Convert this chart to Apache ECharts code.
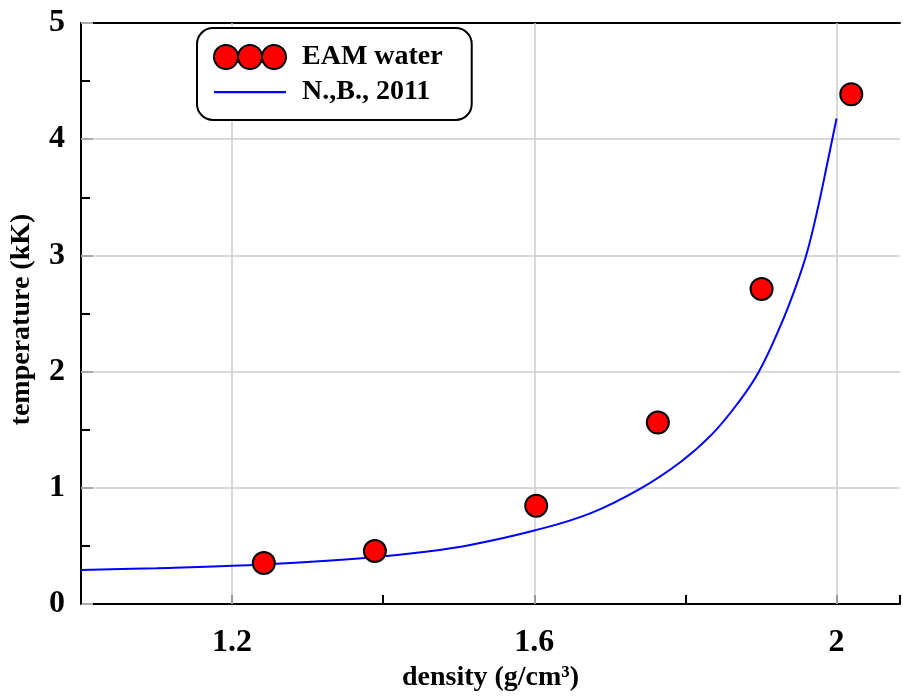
<!DOCTYPE html>
<html>
<head>
<meta charset="utf-8">
<title>EAM water</title>
<script src="https://cdn.jsdelivr.net/npm/echarts@6/dist/echarts.min.js"></script>
<style>
  html, body { margin: 0; padding: 0; background: #ffffff; overflow: hidden; }
  #chart { width: 903px; height: 697px; }
</style>
</head>
<body>
<div id="chart"></div>
<script>
// EAM water simulation points: density (g/cm3) vs temperature (kK)
const eamDensity = [1.242, 1.389, 1.6025, 1.7635, 1.9008, 2.0195];
const eamTemp    = [0.354, 0.457, 0.847, 1.562, 2.712, 4.386];

// N.,B., 2011 reference curve
const nbDensity = [1.00, 1.10, 1.20, 1.30, 1.383, 1.45, 1.515, 1.60, 1.674,
                   1.741, 1.794, 1.835, 1.870, 1.897, 1.926, 1.946, 1.961, 1.975, 1.988, 2.000];
const nbTemp    = [0.294, 0.309, 0.329, 0.363, 0.400, 0.446, 0.509, 0.633, 0.781,
                   0.996, 1.225, 1.460, 1.734, 1.997, 2.398, 2.730, 3.027, 3.399, 3.800, 4.178];

// axis ticks
const xLabelTicks = [1.2, 1.6, 2.0];
const yTicks = [0, 1, 2, 3, 4, 5];

const serif = '"Liberation Serif", "DejaVu Serif", serif';
const gridGray = '#cccccc';

const eamData = eamDensity.map((d, i) => [d, eamTemp[i]]);
const nbData = nbDensity.map((d, i) => [d, nbTemp[i]]);

// legend icons: a row of three markers, and a plain thin line
const threeCircles = 'path://M0,12a12,12 0 1,0 24,0a12,12 0 1,0 -24,0Z' +
  'M24,12a12,12 0 1,0 24,0a12,12 0 1,0 -24,0Z' +
  'M48,12a12,12 0 1,0 24,0a12,12 0 1,0 -24,0Z';
const thinLine = 'path://M0,0H64V2H0Z';

const chart = echarts.init(document.getElementById('chart'), null, { renderer: 'canvas' });

chart.setOption({
  backgroundColor: '#ffffff',
  animation: false,
  // plot runs off the right edge of the page
  grid: { left: 80.5, width: 826, top: 23, bottom: 91, containLabel: false },
  legend: {
    orient: 'vertical',
    left: 197,
    top: 28,
    padding: [15, 29, 14, 16],
    itemGap: 7,
    itemWidth: 72,
    itemHeight: 24,
    symbolKeepAspect: true,
    backgroundColor: '#ffffff',
    borderColor: '#000000',
    borderWidth: 2,
    borderRadius: 16,
    textStyle: { fontFamily: serif, fontWeight: 'bold', fontSize: 28, color: '#000', padding: [0, 0, 0, 11] },
    data: [
      { name: 'EAM water', icon: threeCircles },
      { name: 'N.,B., 2011', icon: thinLine, itemStyle: { color: '#0000ff', borderWidth: 0 } }
    ]
  },
  xAxis: [
    {
      type: 'value',
      min: 1.0,
      max: 2.084,
      interval: 0.2,
      position: 'bottom',
      axisLine: { show: true, onZero: false, lineStyle: { color: '#000', width: 2 } },
      axisTick: { show: true, inside: true, length: 9, lineStyle: { color: '#000', width: 2 } },
      splitLine: { show: false },
      axisLabel: {
        margin: 23,
        fontFamily: serif, fontWeight: 'bold', fontSize: 32, color: '#000',
        formatter: v => {
          const hit = xLabelTicks.find(t => Math.abs(t - v) < 1e-6);
          return hit === undefined ? '' : String(+hit.toFixed(1));
        }
      },
      name: 'density (g/cm³)',
      nameLocation: 'middle',
      nameGap: 51,
      nameTextStyle: { fontFamily: serif, fontWeight: 'bold', fontSize: 28, color: '#000' }
    },
    {
      type: 'value',
      min: 1.0,
      max: 2.084,
      position: 'top',
      axisLine: { show: true, onZero: false, lineStyle: { color: '#000', width: 2 } },
      axisTick: { show: false },
      axisLabel: { show: false },
      splitLine: { show: false }
    }
  ],
  yAxis: {
    type: 'value',
    min: 0,
    max: 5,
    interval: 1,
    axisLine: { show: true, onZero: false, lineStyle: { color: '#000', width: 2 } },
    axisTick: { show: true, inside: true, length: 12, lineStyle: { color: '#aaaaaa', width: 2 } },
    minorTick: { show: true, splitNumber: 2, length: 9, lineStyle: { color: '#000', width: 2 } },
    splitLine: { show: true, lineStyle: { color: gridGray, width: 1.5 } },
    axisLabel: {
      margin: 16,
      fontFamily: serif, fontWeight: 'bold', fontSize: 32, color: '#000',
      formatter: v => (yTicks.includes(v) ? String(v) : '')
    },
    name: 'temperature (kK)',
    nameLocation: 'middle',
    nameRotate: 90,
    nameGap: 45,
    nameTextStyle: { fontFamily: serif, fontWeight: 'bold', fontSize: 28, color: '#000', padding: [0, 12, 0, 0] }
  },
  series: [
    {
      name: 'N.,B., 2011',
      type: 'line',
      xAxisIndex: 0,
      data: nbData,
      smooth: 0.4,
      symbol: 'none',
      lineStyle: { color: '#0000ff', width: 2 },
      itemStyle: { color: '#0000ff' },
      z: 3,
      markLine: {
        silent: true,
        z: 1,
        symbol: ['none', 'none'],
        label: { show: false },
        lineStyle: { color: gridGray, width: 1.5, type: 'solid' },
        data: xLabelTicks.map(t => ({ xAxis: t }))
      }
    },
    {
      name: 'EAM water',
      type: 'scatter',
      xAxisIndex: 0,
      data: eamData,
      symbol: 'circle',
      symbolSize: 22,
      itemStyle: { color: '#ff0000', borderColor: '#000000', borderWidth: 2, opacity: 1 },
      z: 4
    }
  ]
});
</script>
</body>
</html>
